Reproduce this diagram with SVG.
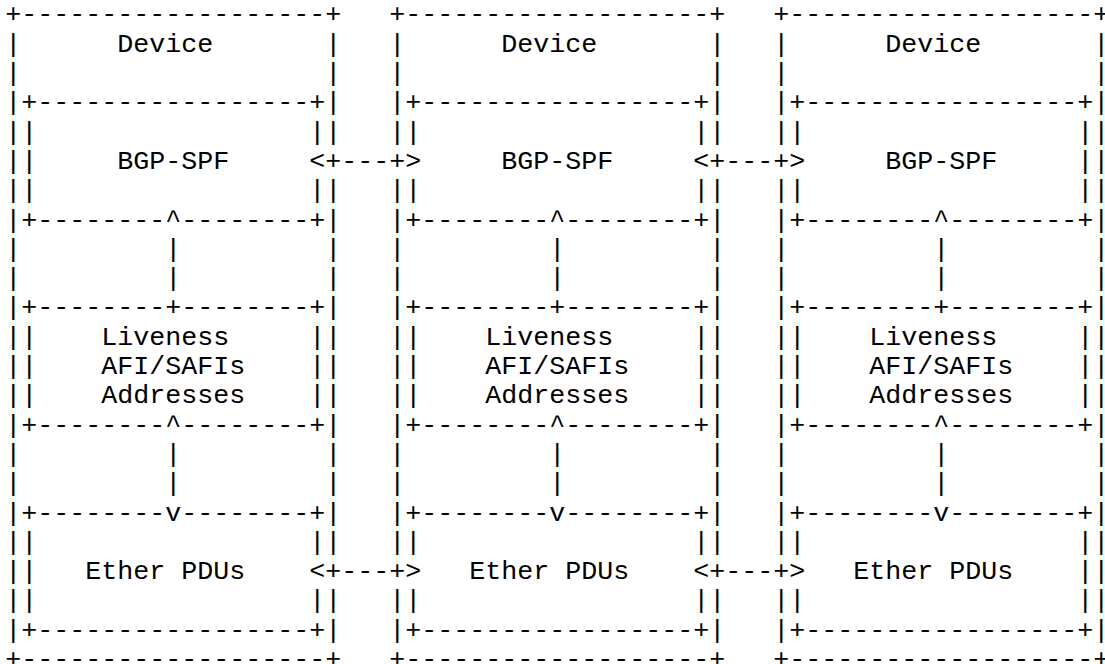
<svg xmlns="http://www.w3.org/2000/svg" width="1105" height="664" viewBox="0 0 1105 664">
<style>
  text { font-family: "Liberation Mono", "Courier New", monospace; font-size: 26.667px; fill: #000; white-space: pre; }
</style>
<rect width="1105" height="664" fill="#fff"/>
<g id="device1" transform="translate(5.3,0)">
<text xml:space="preserve"><tspan x="0" y="22.4">+-------------------+</tspan><tspan x="0" y="51.7">|      Device       |</tspan><tspan x="0" y="81.0">|                   |</tspan><tspan x="0" y="110.3">|+-----------------+|</tspan><tspan x="0" y="139.6">||                 ||</tspan><tspan x="0" y="168.9">||     BGP-SPF     &lt;+</tspan><tspan x="0" y="198.2">||                 ||</tspan><tspan x="0" y="227.5">|+--------^--------+|</tspan><tspan x="0" y="256.8">|         |         |</tspan><tspan x="0" y="286.1">|         |         |</tspan><tspan x="0" y="315.4">|+--------+--------+|</tspan><tspan x="0" y="344.7">||    Liveness     ||</tspan><tspan x="0" y="374.0">||    AFI/SAFIs    ||</tspan><tspan x="0" y="403.3">||    Addresses    ||</tspan><tspan x="0" y="432.6">|+--------^--------+|</tspan><tspan x="0" y="461.9">|         |         |</tspan><tspan x="0" y="491.2">|         |         |</tspan><tspan x="0" y="520.5">|+--------v--------+|</tspan><tspan x="0" y="549.8">||                 ||</tspan><tspan x="0" y="579.1">||   Ether PDUs    &lt;+</tspan><tspan x="0" y="608.4">||                 ||</tspan><tspan x="0" y="637.7">|+-----------------+|</tspan><tspan x="0" y="667.0">+-------------------+</tspan></text>
</g>
<g id="device2" transform="translate(389.3,0)">
<text xml:space="preserve"><tspan x="0" y="22.4">+-------------------+</tspan><tspan x="0" y="51.7">|      Device       |</tspan><tspan x="0" y="81.0">|                   |</tspan><tspan x="0" y="110.3">|+-----------------+|</tspan><tspan x="0" y="139.6">||                 ||</tspan><tspan x="0" y="168.9">+&gt;     BGP-SPF     &lt;+</tspan><tspan x="0" y="198.2">||                 ||</tspan><tspan x="0" y="227.5">|+--------^--------+|</tspan><tspan x="0" y="256.8">|         |         |</tspan><tspan x="0" y="286.1">|         |         |</tspan><tspan x="0" y="315.4">|+--------+--------+|</tspan><tspan x="0" y="344.7">||    Liveness     ||</tspan><tspan x="0" y="374.0">||    AFI/SAFIs    ||</tspan><tspan x="0" y="403.3">||    Addresses    ||</tspan><tspan x="0" y="432.6">|+--------^--------+|</tspan><tspan x="0" y="461.9">|         |         |</tspan><tspan x="0" y="491.2">|         |         |</tspan><tspan x="0" y="520.5">|+--------v--------+|</tspan><tspan x="0" y="549.8">||                 ||</tspan><tspan x="0" y="579.1">+&gt;   Ether PDUs    &lt;+</tspan><tspan x="0" y="608.4">||                 ||</tspan><tspan x="0" y="637.7">|+-----------------+|</tspan><tspan x="0" y="667.0">+-------------------+</tspan></text>
</g>
<g id="device3" transform="translate(773.3,0)">
<text xml:space="preserve"><tspan x="0" y="22.4">+-------------------+</tspan><tspan x="0" y="51.7">|      Device       |</tspan><tspan x="0" y="81.0">|                   |</tspan><tspan x="0" y="110.3">|+-----------------+|</tspan><tspan x="0" y="139.6">||                 ||</tspan><tspan x="0" y="168.9">+&gt;     BGP-SPF     ||</tspan><tspan x="0" y="198.2">||                 ||</tspan><tspan x="0" y="227.5">|+--------^--------+|</tspan><tspan x="0" y="256.8">|         |         |</tspan><tspan x="0" y="286.1">|         |         |</tspan><tspan x="0" y="315.4">|+--------+--------+|</tspan><tspan x="0" y="344.7">||    Liveness     ||</tspan><tspan x="0" y="374.0">||    AFI/SAFIs    ||</tspan><tspan x="0" y="403.3">||    Addresses    ||</tspan><tspan x="0" y="432.6">|+--------^--------+|</tspan><tspan x="0" y="461.9">|         |         |</tspan><tspan x="0" y="491.2">|         |         |</tspan><tspan x="0" y="520.5">|+--------v--------+|</tspan><tspan x="0" y="549.8">||                 ||</tspan><tspan x="0" y="579.1">+&gt;   Ether PDUs    ||</tspan><tspan x="0" y="608.4">||                 ||</tspan><tspan x="0" y="637.7">|+-----------------+|</tspan><tspan x="0" y="667.0">+-------------------+</tspan></text>
</g>
<g id="connectors">
<text xml:space="preserve" x="341.3" y="168.9">---</text>
<text xml:space="preserve" x="725.3" y="168.9">---</text>
<text xml:space="preserve" x="341.3" y="579.1">---</text>
<text xml:space="preserve" x="725.3" y="579.1">---</text>
</g>
</svg>
